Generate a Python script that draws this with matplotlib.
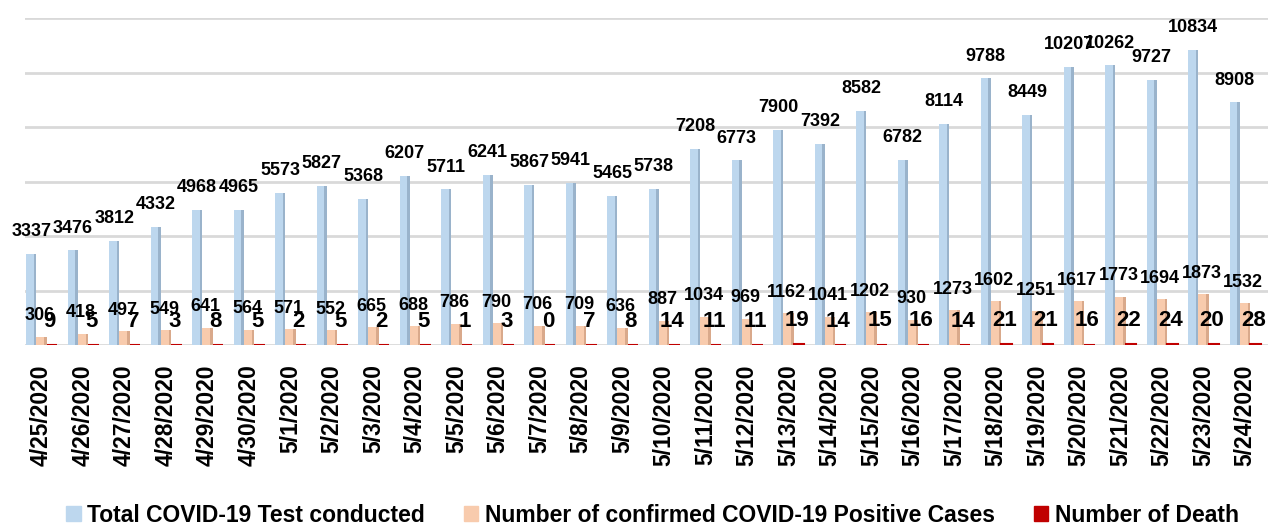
import matplotlib
matplotlib.use("Agg")
import matplotlib.pyplot as plt
from matplotlib.patches import Patch
import numpy as np

plt.rcParams['font.family'] = ['Liberation Sans', 'DejaVu Sans']
plt.rcParams['font.weight'] = 'bold'

dates = ['4/25/2020', '4/26/2020', '4/27/2020', '4/28/2020', '4/29/2020', '4/30/2020',
         '5/1/2020', '5/2/2020', '5/3/2020', '5/4/2020', '5/5/2020', '5/6/2020',
         '5/7/2020', '5/8/2020', '5/9/2020', '5/10/2020', '5/11/2020', '5/12/2020',
         '5/13/2020', '5/14/2020', '5/15/2020', '5/16/2020', '5/17/2020', '5/18/2020',
         '5/19/2020', '5/20/2020', '5/21/2020', '5/22/2020', '5/23/2020', '5/24/2020']
tests = [3337, 3476, 3812, 4332, 4968, 4965, 5573, 5827, 5368, 6207,
         5711, 6241, 5867, 5941, 5465, 5738, 7208, 6773, 7900, 7392,
         8582, 6782, 8114, 9788, 8449, 10207, 10262, 9727, 10834, 8908]
positive = [306, 418, 497, 549, 641, 564, 571, 552, 665, 688,
            786, 790, 706, 709, 636, 887, 1034, 969, 1162, 1041,
            1202, 930, 1273, 1602, 1251, 1617, 1773, 1694, 1873, 1532]
deaths = [9, 5, 7, 3, 8, 5, 2, 5, 2, 5,
          1, 3, 0, 7, 8, 14, 11, 11, 19, 14,
          15, 16, 14, 21, 21, 16, 22, 24, 20, 28]

c_blue, c_blue_dark = '#BDD7EE', '#9AB3CB'
c_orange, c_orange_dark = '#F8CBAD', '#D9A98B'
c_red = '#C00000'

fig = plt.figure(figsize=(12.7, 5.25), dpi=100)
ax = fig.add_axes([25 / 1270, 1 - 345 / 525, 1243 / 1270, 327 / 525])

x = np.arange(len(dates))
w = 0.25

# main bars plus a darker strip on the right to fake the 3D look
ax.bar(x - w, tests, width=w, color=c_blue, zorder=2)
ax.bar(x - w + w * 0.38, tests, width=w * 0.24, color=c_blue_dark, zorder=2)
ax.bar(x, positive, width=w, color=c_orange, zorder=2)
ax.bar(x + w * 0.38, positive, width=w * 0.24, color=c_orange_dark, zorder=2)
ax.bar(x + w, deaths, width=w, color=c_red, edgecolor=c_red, linewidth=1.5, zorder=2)

for i in range(len(dates)):
    ax.annotate(str(tests[i]), (x[i] - w, tests[i]), xytext=(0, 16), textcoords='offset points',
                ha='center', va='center', fontsize=13, fontweight='bold', zorder=4)
    ax.annotate(str(positive[i]), (x[i] - 0.05, positive[i]), xytext=(0, 15), textcoords='offset points',
                ha='center', va='center', fontsize=13, fontweight='bold', zorder=4)
    ax.annotate(str(deaths[i]), (x[i] + w * 0.8, deaths[i]), xytext=(0, 17), textcoords='offset points',
                ha='center', va='center', fontsize=16, fontweight='bold', zorder=5)

ax.set_ylim(0, 12000)
ax.set_xlim(-0.4, 29.55)
ax.set_yticks(np.arange(0, 12001, 2000))
ax.set_yticklabels([])
ax.tick_params(axis='y', length=0)
ax.grid(axis='y', color='#D9D9D9', linewidth=2, zorder=0)
ax.set_xticks(x)
ax.set_xticklabels(dates, rotation=90, fontsize=16.5, fontweight='bold')
ax.tick_params(axis='x', length=0, pad=14)
for s in ax.spines.values():
    s.set_visible(False)

handles = [Patch(color=c_blue, label='Total COVID-19 Test conducted'),
           Patch(color=c_orange, label='Number of confirmed COVID-19 Positive Cases'),
           Patch(color=c_red, label='Number of Death')]
fig.legend(handles=handles, loc='center', bbox_to_anchor=(0.514, 0.019), ncol=3, frameon=False,
           prop={'size': 16.5, 'weight': 'bold'}, handlelength=0.62, handleheight=0.65,
           handletextpad=0.3, columnspacing=1.7, borderpad=0)

fig.savefig('out.png', dpi=100)
